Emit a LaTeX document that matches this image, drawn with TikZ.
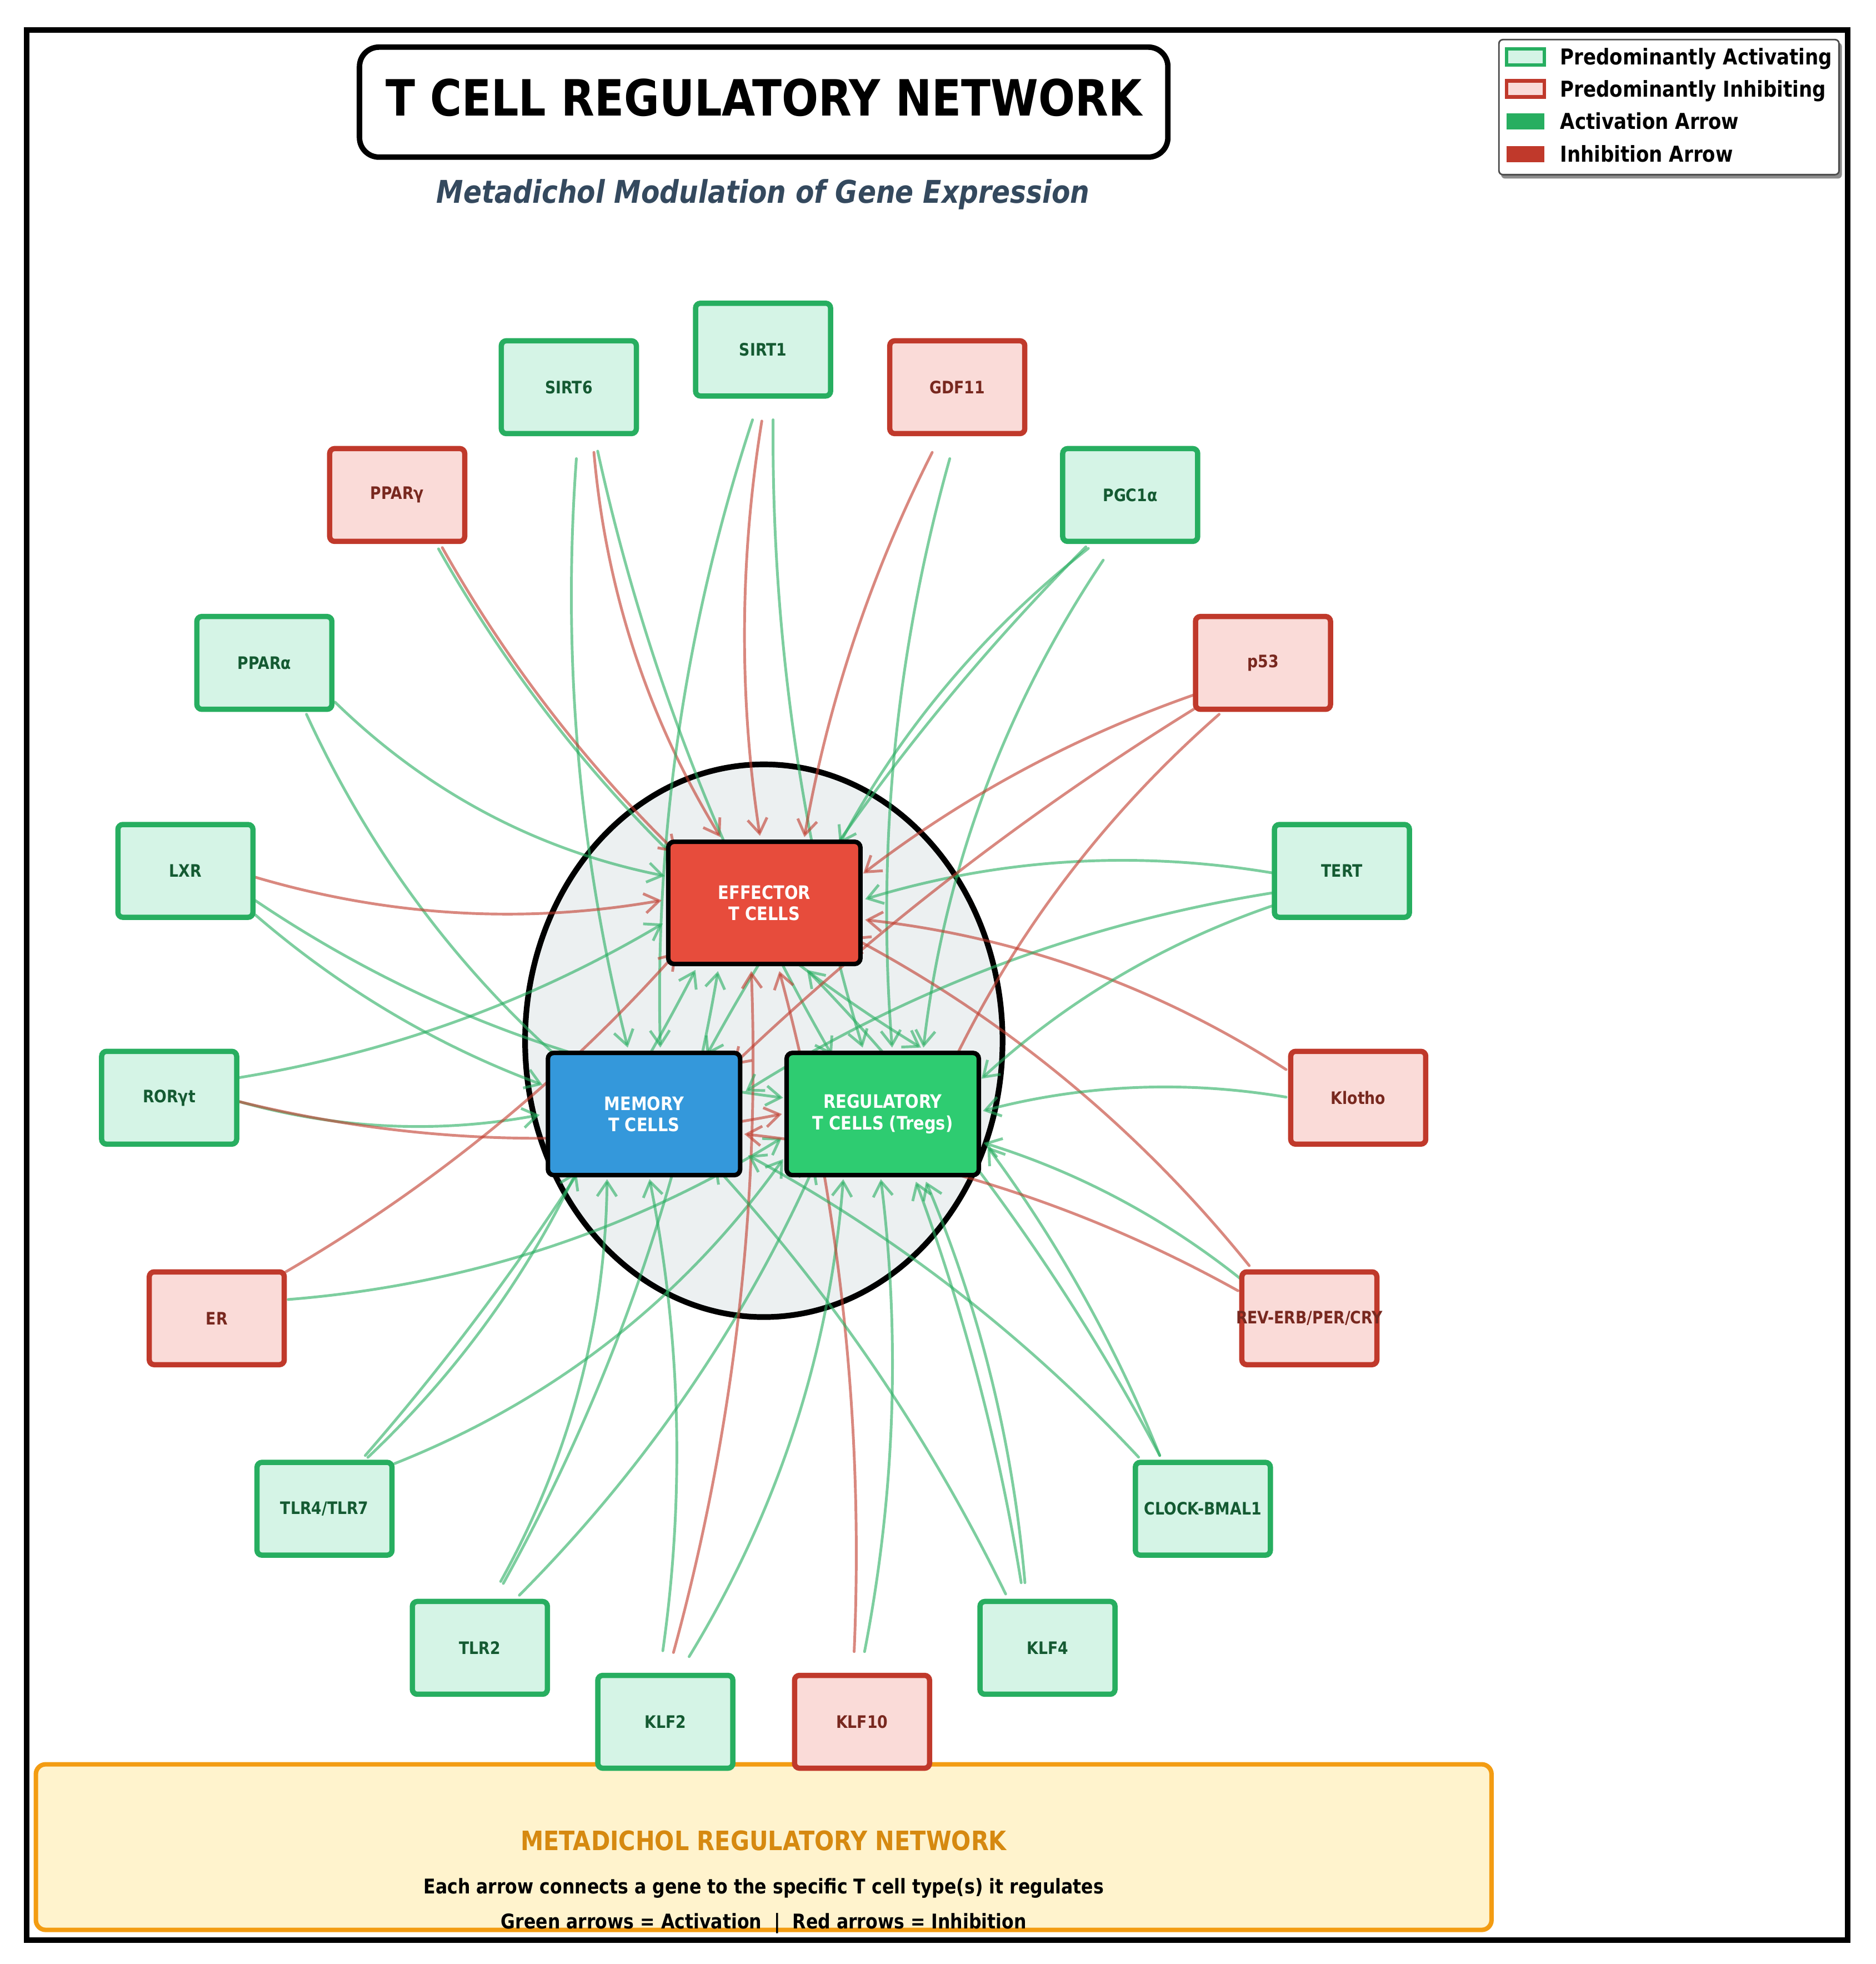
\documentclass[tikz,border=0pt]{standalone}
\usepackage{fontspec}
\setmainfont{DejaVu Sans}[FakeStretch=0.864]
\usetikzlibrary{calc,arrows.meta,shapes.geometric}
\pgfdeclarelayer{under}
\pgfdeclarelayer{links}
\pgfsetlayers{under,links,main}
\definecolor{ga}{HTML}{27AE60}
\definecolor{gaf}{HTML}{D5F4E6}
\definecolor{gat}{HTML}{145A32}
\definecolor{gi}{HTML}{C0392B}
\definecolor{gif}{HTML}{FADBD8}
\definecolor{git}{HTML}{78281F}
\definecolor{ringfill}{HTML}{ECF0F1}
\definecolor{panelf}{HTML}{FFF3CD}
\definecolor{paneld}{HTML}{F39C12}
\definecolor{panelt}{HTML}{D68910}
\definecolor{subt}{HTML}{34495E}
\tikzset{
 geneact/.style={draw=ga,fill=gaf,text=gat,line width=2.7pt,rounded corners=2.5pt,minimum width=2.43cm,minimum height=1.67cm,inner sep=0pt,font=\fontsize{8.8}{10}\selectfont\bfseries},
 geneinh/.style={geneact,draw=gi,fill=gif,text=git},
 corebox/.style={draw=black,line width=2.3pt,rounded corners=3pt,minimum width=3.46cm,minimum height=2.2cm,inner sep=0pt,text=white,align=center,font=\fontsize{9.5}{10.9}\selectfont\bfseries},
 act/.style={draw=ga,draw opacity=.6,line width=1.4pt,line cap=round,-{Straight Barb[length=7.5pt,width=10pt]}},
 inh/.style={act,draw=gi},
 legtxt/.style={anchor=west,inner sep=0pt,text=black,text height=8.2pt,text depth=2.2pt,font=\fontsize{11.2}{13}\selectfont\bfseries},
 swatch/.style={minimum width=.68cm,minimum height=.29cm,inner sep=0pt,line width=1.8pt},
}
\newcommand\conn[8]{%
 \pgfmathsetmacro\blen{#8*1.3333*0.022555}%
 \draw[#1] ($(#2)+(#3,#4)$) .. controls
  ($($(#2)+(#3,#4)$)!.3333!($(#5)+(#6,#7)$)!\blen cm!90:($(#5)+(#6,#7)$)$) and
  ($($(#5)+(#6,#7)$)!.3333!($(#2)+(#3,#4)$)!\blen cm!-90:($(#2)+(#3,#4)$)$) ..
  ($(#5)+(#6,#7)$);}
\begin{document}
\begin{tikzpicture}[x=0.022555cm,y=-0.022555cm]
\useasboundingbox (0,0) rectangle (1497.2,1567.3);
\begin{pgfonlayer}{under}
\fill[white] (0,0) rectangle (1497.2,1567.3);
\node[draw=black,line width=2.85pt,minimum width=32.78cm,minimum height=34.38cm,inner sep=0pt] (frame) at (748,786) {};
\node[ellipse,draw=black,fill=ringfill,line width=2.9pt,minimum width=8.594cm,minimum height=9.947cm,inner sep=0pt] (ring) at (609.6,830.5) {};
\end{pgfonlayer}
% title
\node[draw=black,fill=white,line width=2.8pt,rounded corners=10pt,minimum width=14.55cm,minimum height=1.98cm,inner sep=0pt] (titlebox) at (609.5,81.5) {};
\node[inner sep=0pt,font=\fontsize{25.6}{30}\selectfont\bfseries] (titletext) at (609.5,78) {T CELL REGULATORY NETWORK};
\node[inner sep=0pt,text=subt,font=\fontsize{16.05}{19}\selectfont\bfseries\itshape] (subtitle) at (609,155) {Metadichol Modulation of Gene Expression};
% legend
\fill[black!45,rounded corners=2pt] (1198,34) rectangle (1470,142.5);
\node[draw=black!70,fill=white,line width=.8pt,rounded corners=2pt,minimum width=6.12cm,minimum height=2.43cm,inner sep=0pt] (legend) at (1332,85.5) {};
\node[swatch,draw=ga,fill=gaf] (lg1) at (1217.5,45.5) {};
\node[swatch,draw=gi,fill=gif] (lg2) at (1217.5,71) {};
\node[swatch,fill=ga] (lg3) at (1217.5,97) {};
\node[swatch,fill=gi] (lg4) at (1217.5,123) {};
\node[legtxt] (lt1) at (1245,47) {Predominantly Activating};
\node[legtxt] (lt2) at (1245,72.5) {Predominantly Inhibiting};
\node[legtxt] (lt3) at (1245,98.5) {Activation Arrow};
\node[legtxt] (lt4) at (1245,124.5) {Inhibition Arrow};
% panel
\node[draw=paneld,fill=panelf,line width=2.3pt,rounded corners=5pt,minimum width=26.2cm,minimum height=2.98cm,inner sep=0pt] (panel) at (609.5,1474) {};
\node[inner sep=0pt,text=panelt,font=\fontsize{13.65}{16}\selectfont\bfseries] (pt1) at (609.5,1469) {METADICHOL REGULATORY NETWORK};
\node[inner sep=0pt,text=black,font=\fontsize{10.4}{12}\selectfont\bfseries] (pt2) at (609.5,1507) {Each arrow connects a gene to the specific T cell type(s) it regulates};
\node[inner sep=0pt,text=black,font=\fontsize{10.4}{12}\selectfont\bfseries] (pt3) at (609.5,1535) {Green arrows = Activation\ \ |\ \ Red arrows = Inhibition};
% core
\node[corebox,fill={rgb,255:red,231;green,76;blue,60}] (eff) at (610,720.5) {EFFECTOR\\T CELLS};
\node[corebox,fill={rgb,255:red,52;green,152;blue,219}] (mem) at (514,889) {MEMORY\\T CELLS};
\node[corebox,fill={rgb,255:red,46;green,204;blue,113}] (reg) at (704.5,889) {REGULATORY\\T CELLS (Tregs)};
% genes
\node[geneact] (sirtone) at (609,279) {SIRT1};
\node[geneact] (sirtsix) at (454,309) {SIRT6};
\node[geneinh] (gdf) at (764,309) {GDF11};
\node[geneinh] (pparg) at (317,395) {PPARγ};
\node[geneact] (pgc) at (902,395) {PGC1α};
\node[geneact] (ppara) at (211,529) {PPARα};
\node[geneinh] (pff) at (1008,529) {p53};
\node[geneact] (lxr) at (148,695) {LXR};
\node[geneact] (tert) at (1071,695) {TERT};
\node[geneact] (ror) at (135,876) {RORγt};
\node[geneinh] (klotho) at (1084,876) {Klotho};
\node[geneinh] (er) at (173,1052) {ER};
\node[geneinh] (rev) at (1045,1052) {\makebox[0pt][c]{REV-ERB/PER/CRY}};
\node[geneact] (tlrf) at (259,1204) {TLR4/TLR7};
\node[geneact] (clock) at (960,1204) {CLOCK-BMAL1};
\node[geneact] (tlrt) at (383,1315) {TLR2};
\node[geneact] (klff) at (836,1315) {KLF4};
\node[geneact] (klft) at (531,1374) {KLF2};
\node[geneinh] (klfx) at (688,1374) {KLF10};
% connectors
\begin{pgfonlayer}{links}
\conn{act}{sirtsix}{6}{57}{mem}{-13}{-53}{-19}
\conn{inh}{sirtsix}{20}{52}{eff}{-35}{-52.5}{-19}
\conn{act}{sirtsix}{23}{51}{reg}{-40.5}{-47}{-20}
\conn{act}{sirtone}{-8.4}{56}{mem}{13}{-53}{-22}
\conn{inh}{sirtone}{-1}{57}{eff}{-3.5}{-53.5}{-13}
\conn{act}{sirtone}{8}{56}{reg}{-16}{-53}{-19}
\conn{inh}{gdf}{-20}{52}{eff}{32}{-52.5}{-12}
\conn{act}{gdf}{-6}{57}{reg}{7.5}{-53}{-21}
\conn{act}{pgc}{-33.4}{42.6}{eff}{60}{-47}{-16}
\conn{act}{pgc}{-35.4}{41.4}{mem}{50}{-47}{-18}
\conn{act}{pgc}{-21.5}{52}{reg}{32.5}{-53}{-25}
\conn{act}{pparg}{33}{43}{reg}{30.5}{-53}{-36}
\conn{inh}{pparg}{36}{42}{eff}{-70}{-40}{-11}
\conn{act}{ppara}{56.4}{31.3}{eff}{-79.5}{-21.5}{-22}
\conn{act}{ppara}{33.6}{41}{mem}{-44}{-24}{-21}
\conn{inh}{lxr}{55.7}{5}{eff}{-82}{-2}{-19}
\conn{act}{lxr}{55.7}{23.6}{reg}{-79.5}{-13}{-27}
\conn{act}{lxr}{55.7}{35}{mem}{-81}{-23.3}{-12}
\conn{act}{ror}{55.5}{-16}{eff}{-81}{16.5}{-17}
\conn{act}{ror}{55.5}{3}{mem}{-83.3}{.7}{-14}
\conn{inh}{ror}{55.5}{3}{reg}{-80.5}{0}{-24}
\conn{inh}{er}{55}{-37}{eff}{-70}{39.5}{-16}
\conn{act}{er}{57}{-15}{reg}{-80.5}{19}{-25}
\conn{act}{tlrf}{32.5}{-42.5}{eff}{-55}{53.5}{-14}
\conn{act}{tlrf}{34.6}{-41}{mem}{-54}{46}{-13}
\conn{act}{tlrf}{55.8}{-36}{reg}{-79.5}{36}{-29}
\conn{act}{tlrt}{16.6}{-53}{mem}{-29.5}{52}{-21}
\conn{act}{tlrt}{18.7}{-51.4}{eff}{-37}{54.5}{-22}
\conn{act}{tlrt}{31.5}{-42}{reg}{-54.5}{41}{-19}
\conn{act}{klft}{-2}{-56.7}{mem}{4.4}{52}{-16}
\conn{inh}{klft}{6.5}{-55.3}{eff}{-10.4}{54.5}{-21}
\conn{act}{klft}{19}{-52}{reg}{-31.5}{52}{-24}
\conn{inh}{klfx}{-6.3}{-56}{eff}{12}{54.5}{-21}
\conn{act}{klfx}{2}{-56}{reg}{-1.5}{52}{-15}
\conn{act}{klff}{-33.4}{-43}{mem}{56}{41}{-15}
\conn{act}{klff}{-21}{-52}{reg}{26.5}{54}{-8}
\conn{act}{klff}{-18}{-52}{reg}{34.5}{54}{-13}
\conn{act}{clock}{-51.3}{-41.2}{mem}{83}{33}{-16}
\conn{act}{clock}{-34.4}{-42.5}{reg}{83.5}{26}{-9}
\conn{act}{clock}{-34.4}{-42.5}{eff}{34}{53.5}{-17}
\conn{inh}{rev}{-48}{-42}{eff}{70}{27.5}{-21}
\conn{inh}{rev}{-57}{-22}{mem}{80}{16}{-21}
\conn{act}{rev}{-54.3}{-31}{reg}{80.5}{23}{-11}
\conn{inh}{klotho}{-57.6}{-22.5}{eff}{80.5}{13.5}{-21}
\conn{act}{klotho}{-57.6}{-.5}{reg}{80}{-2.5}{-13}
\conn{act}{tert}{-56}{1.5}{eff}{80.5}{-3}{-19}
\conn{act}{tert}{-56}{17.6}{mem}{81}{-18}{-23}
\conn{act}{tert}{-56}{28}{reg}{78.8}{-28.2}{-14}
\conn{inh}{pff}{-55.4}{25.6}{eff}{79}{-23.5}{-12}
\conn{inh}{pff}{-55.4}{37}{mem}{71}{-39}{-12}
\conn{inh}{pff}{-35}{41}{reg}{50.5}{-29}{-19}
\end{pgfonlayer}
\end{tikzpicture}
\end{document}
